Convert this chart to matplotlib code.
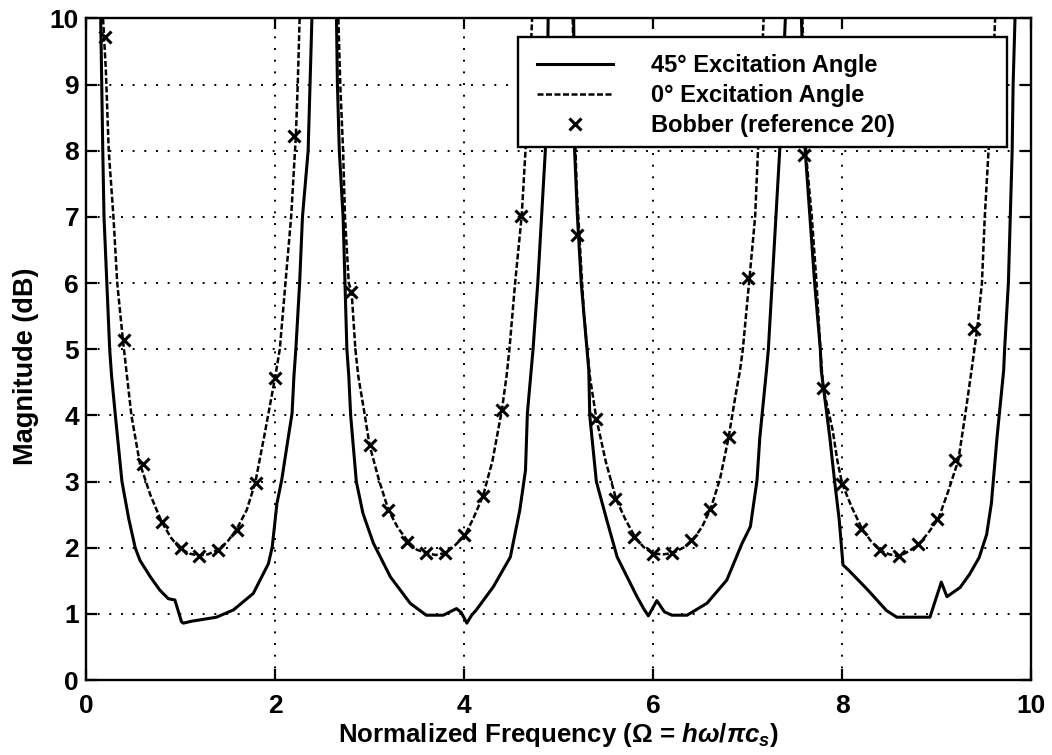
import numpy as np
import matplotlib
matplotlib.use('Agg')
import matplotlib.pyplot as plt
from matplotlib.patches import Rectangle

plt.rcParams['font.family'] = ['Liberation Sans', 'DejaVu Sans']
plt.rcParams['font.weight'] = 'bold'
plt.rcParams['mathtext.fontset'] = 'custom'
plt.rcParams['mathtext.rm'] = 'Liberation Sans:bold'
plt.rcParams['mathtext.it'] = 'Liberation Sans:italic:bold'
plt.rcParams['mathtext.bf'] = 'Liberation Sans:bold'

# ---------------- data ----------------
# 45 deg excitation angle (solid), one branch per pass band
s45_x1 = [0.155, 0.166, 0.177, 0.19, 0.22, 0.25, 0.27, 0.31, 0.38, 0.45, 0.52, 0.57, 0.68, 0.78, 0.87, 0.94,
          1.01, 1.03, 1.12, 1.21, 1.38, 1.56, 1.77, 1.93, 1.97, 2.02, 2.07, 2.14, 2.18, 2.20, 2.22, 2.26, 2.29, 2.35, 2.37, 2.39]
s45_y1 = [10.0, 9.0, 8.0, 7.0, 6.0, 5.0, 4.6, 4.0, 3.0, 2.45, 2.0, 1.81, 1.56, 1.36, 1.23, 1.21,
          0.88, 0.86, 0.89, 0.91, 0.95, 1.06, 1.31, 1.76, 2.01, 2.67, 3.02, 3.67, 4.03, 4.6, 5.0, 6.0, 7.0, 8.0, 9.0, 10.0]
s45_x2 = [2.65, 2.66, 2.68, 2.72, 2.74, 2.76, 2.78, 2.80, 2.86, 2.93, 3.04, 3.22, 3.43, 3.60, 3.78, 3.92, 3.97,
          4.03, 4.08, 4.13, 4.31, 4.49, 4.59, 4.65, 4.67, 4.71, 4.73, 4.78, 4.82, 4.86, 4.88, 4.89]
s45_y2 = [10.0, 9.0, 8.0, 7.0, 6.0, 5.0, 4.6, 4.0, 3.0, 2.52, 2.07, 1.56, 1.16, 0.98, 0.98, 1.08, 1.02,
          0.86, 0.98, 1.06, 1.41, 1.86, 2.57, 3.17, 4.03, 4.68, 5.0, 6.0, 7.0, 8.0, 9.0, 10.0]
s45_x3 = [5.16, 5.165, 5.17, 5.20, 5.24, 5.30, 5.32, 5.33, 5.40, 5.51, 5.62, 5.76, 5.83, 5.90, 5.95, 6.04, 6.12,
          6.20, 6.36, 6.57, 6.78, 6.94, 7.03, 7.10, 7.13, 7.20, 7.22, 7.26, 7.30, 7.34, 7.37, 7.40]
s45_y3 = [10.0, 9.0, 8.0, 7.0, 6.0, 5.0, 4.68, 4.0, 3.0, 2.42, 1.86, 1.46, 1.26, 1.08, 0.97, 1.20, 1.03,
          0.98, 0.98, 1.16, 1.51, 2.06, 2.32, 3.02, 3.67, 4.68, 5.0, 6.0, 7.0, 8.0, 9.0, 10.0]
s45_x4 = [7.57, 7.59, 7.61, 7.66, 7.71, 7.77, 7.78, 7.87, 7.92, 7.97, 8.01, 8.07, 8.26, 8.47, 8.58, 8.93, 9.05,
          9.11, 9.25, 9.35, 9.45, 9.53, 9.58, 9.64, 9.71, 9.72, 9.76, 9.78, 9.80, 9.81, 9.83]
s45_y4 = [10.0, 9.0, 8.0, 7.0, 6.0, 5.0, 4.68, 3.67, 3.02, 2.42, 1.74, 1.66, 1.38, 1.05, 0.95, 0.95, 1.48,
          1.26, 1.40, 1.60, 1.85, 2.2, 2.67, 3.67, 4.68, 5.0, 6.0, 7.0, 8.0, 9.0, 10.0]

# 0 deg excitation angle (dashed)
s0_x1 = [0.18, 0.21, 0.24, 0.29, 0.33, 0.39, 0.48, 0.57, 0.68, 0.80, 0.90, 0.99, 1.10, 1.19, 1.29, 1.38, 1.49,
         1.59, 1.70, 1.79, 1.89, 2.00, 2.05, 2.11, 2.17, 2.22, 2.24, 2.26]
s0_y1 = [10.0, 9.2, 8.0, 7.0, 6.0, 5.14, 4.0, 3.27, 2.8, 2.39, 2.15, 1.99, 1.91, 1.88, 1.90, 1.96, 2.08,
         2.27, 2.57, 2.98, 3.72, 4.57, 5.0, 6.0, 7.0, 8.22, 9.0, 10.0]
s0_x2 = [2.67, 2.69, 2.72, 2.74, 2.78, 2.81, 2.85, 2.88, 2.95, 3.00, 3.10, 3.20, 3.30, 3.41, 3.50, 3.60, 3.70,
         3.80, 3.90, 4.01, 4.10, 4.20, 4.30, 4.40, 4.45, 4.48, 4.54, 4.61, 4.65, 4.69, 4.72]
s0_y2 = [10.0, 9.0, 8.0, 7.0, 6.0, 5.87, 5.0, 4.6, 4.0, 3.55, 3.02, 2.57, 2.30, 2.09, 1.97, 1.92, 1.89,
         1.92, 2.03, 2.19, 2.45, 2.78, 3.31, 4.08, 4.6, 5.0, 6.0, 7.02, 8.0, 9.0, 10.0]
s0_x3 = [5.15, 5.17, 5.19, 5.22, 5.27, 5.33, 5.40, 5.50, 5.61, 5.71, 5.81, 5.90, 6.00, 6.11, 6.21, 6.32, 6.42,
         6.52, 6.61, 6.71, 6.80, 6.87, 6.92, 6.95, 7.02, 7.08, 7.11, 7.14, 7.17]
s0_y3 = [10.0, 8.5, 7.5, 6.72, 5.5, 4.6, 3.95, 3.3, 2.73, 2.42, 2.16, 2.01, 1.91, 1.90, 1.92, 2.0, 2.11,
         2.32, 2.59, 3.05, 3.67, 4.28, 4.68, 5.0, 6.07, 7.0, 8.0, 9.0, 10.0]
s0_x4 = [7.58, 7.60, 7.62, 7.68, 7.73, 7.77, 7.80, 7.90, 7.95, 8.00, 8.10, 8.21, 8.30, 8.40, 8.50, 8.60, 8.70,
         8.81, 8.91, 9.02, 9.12, 9.23, 9.30, 9.37, 9.43, 9.48, 9.51, 9.55, 9.59, 9.62]
s0_y4 = [10.0, 9.0, 7.93, 7.0, 6.0, 5.0, 4.42, 3.78, 3.32, 2.97, 2.62, 2.29, 2.11, 1.96, 1.90, 1.87, 1.94,
         2.05, 2.22, 2.44, 2.84, 3.32, 3.98, 4.68, 5.31, 6.0, 7.0, 8.0, 9.0, 10.0]

# Bobber (reference 20)
bob_x = [0.2, 0.4, 0.6, 0.8, 1.0, 1.2, 1.4, 1.6, 1.8, 2.0, 2.2,
         2.8, 3.0, 3.2, 3.4, 3.6, 3.8, 4.0, 4.2, 4.4, 4.6,
         5.2, 5.4, 5.6, 5.8, 6.0, 6.2, 6.4, 6.6, 6.8, 7.0,
         7.6, 7.8, 8.0, 8.2, 8.4, 8.6, 8.8, 9.0, 9.2, 9.4]
bob_y = [9.72, 5.14, 3.27, 2.39, 1.99, 1.88, 1.96, 2.27, 2.98, 4.57, 8.22,
         5.87, 3.55, 2.57, 2.09, 1.92, 1.92, 2.19, 2.78, 4.08, 7.02,
         6.72, 3.95, 2.73, 2.16, 1.91, 1.92, 2.11, 2.59, 3.67, 6.07,
         7.93, 4.42, 2.97, 2.29, 1.96, 1.87, 2.05, 2.44, 3.32, 5.31]

labels = ['45\u00b0 Excitation Angle', '0\u00b0 Excitation Angle', 'Bobber (reference 20)']
x_ticks = [0, 2, 4, 6, 8, 10]
y_ticks = [0, 1, 2, 3, 4, 5, 6, 7, 8, 9, 10]


def join(*segs):
    out = []
    for i, s in enumerate(segs):
        if i:
            out.append(np.nan)
        out.extend(s)
    return np.array(out, dtype=float)


x45 = join(s45_x1, s45_x2, s45_x3, s45_x4)
y45 = join(s45_y1, s45_y2, s45_y3, s45_y4)
x0 = join(s0_x1, s0_x2, s0_x3, s0_x4)
y0 = join(s0_y1, s0_y2, s0_y3, s0_y4)

# ---------------- figure ----------------
fig = plt.figure(figsize=(10.52, 7.55), dpi=100)
ax = fig.add_axes([0.0818, 0.0993, 0.8983, 0.8762])

ax.plot(x45, y45, color='black', lw=2.2, solid_joinstyle='round', label=labels[0])
ax.plot(x0, y0, color='black', lw=1.8, linestyle=(0, (2.4, 1.0)), label=labels[1])
ax.plot(bob_x, bob_y, linestyle='none', marker='x', color='black', markersize=8.5,
        markeredgewidth=2.2, label=labels[2])

ax.set_xlim(0, 10)
ax.set_ylim(0, 10)
ax.set_xticks(x_ticks)
ax.set_yticks(y_ticks)
ax.grid(True, color='black', linestyle=(0, (1, 5.0)), linewidth=1.4)

for sp in ax.spines.values():
    sp.set_linewidth(1.7)
ax.tick_params(axis='both', direction='in', length=8, width=1.6, top=True, right=True,
               labelsize=19)
ax.tick_params(axis='x', pad=10)
ax.tick_params(axis='y', pad=5)
for lab in ax.get_xticklabels() + ax.get_yticklabels():
    lab.set_fontweight('bold')

ax.set_xlabel(r'Normalized Frequency ($\Omega$ = $h\omega/\pi c_s$)', fontsize=18.6, fontweight='bold')
ax.xaxis.set_label_coords(0.5, -0.062)
ax.set_ylabel('Magnitude (dB)', fontsize=19.5, fontweight='bold')
ax.yaxis.set_label_coords(-0.050, 0.475)

# legend box
ax.add_patch(Rectangle((0.4575, 0.8062), 0.5168, 0.1663, transform=ax.transAxes,
                       facecolor='white', edgecolor='black', lw=1.7, zorder=4))
leg = ax.legend(loc='upper left', bbox_to_anchor=(0.4769, 0.9463), frameon=False,
                prop={'size': 17, 'weight': 'bold'}, handlelength=3.25, handletextpad=1.6,
                labelspacing=0.30, borderpad=0, borderaxespad=0, numpoints=1)
leg.set_zorder(5)

fig.savefig('out.png', dpi=100)
